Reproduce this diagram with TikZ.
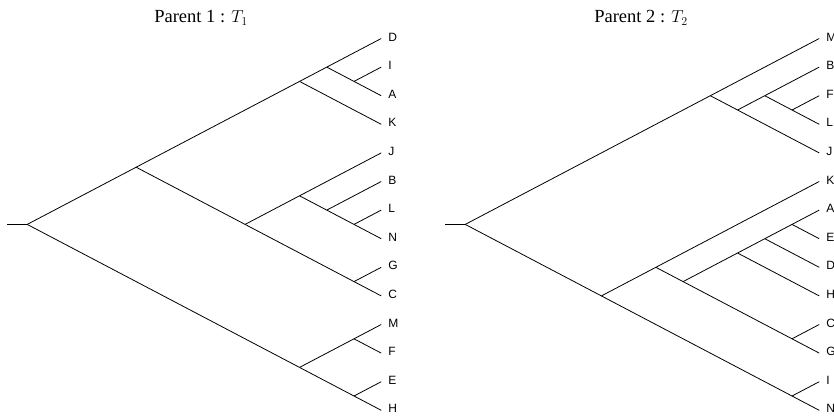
\documentclass[tikz,border=0pt]{standalone}
\usepackage{fontspec}
\setmainfont{Liberation Serif}
\newfontfamily\lsans{Liberation Sans}
\begin{document}
\begin{tikzpicture}[
  branch/.style={draw=black, line width=0.8pt},
  leaflabel/.style={anchor=west, inner sep=0pt, xshift=7pt, yshift=1.5pt, font=\lsans\fontsize{12}{14}\selectfont},
  treetitle/.style={anchor=base, inner sep=0pt, font=\fontsize{18.5}{22}\selectfont}
]
\useasboundingbox (0pt,0pt) rectangle (834pt,-416pt);

\node[treetitle] (title1) at (201pt,-22.5pt) {Parent 1 : $T_1$};
\node[treetitle] (title2) at (641pt,-22.5pt) {Parent 2 : $T_2$};

% ---------------- Tree 1 ----------------
\begin{scope}[shift={(0pt,-38.5pt)}, x=27.23pt, y=-28.6pt]
  % leaves
  \foreach \n/\i in {D/0,I/1,A/2,K/3,J/4,B/5,L/6,N/7,G/8,C/9,M/10,F/11,E/12,H/13}{
    \coordinate (a\n) at (14,\i);
    \node[leaflabel] (at\n) at (a\n) {\n};
  }
  % internal nodes
  \coordinate (aIA)  at (13,1.5);
  \coordinate (aDIA) at (12,1);
  \coordinate (aDK)  at (11,1.5);
  \coordinate (aLN)  at (13,6.5);
  \coordinate (aBN)  at (12,6);
  \coordinate (aJN)  at (11,5.5);
  \coordinate (aGC)  at (13,8.5);
  \coordinate (aJC)  at (9,6.5);
  \coordinate (aDC)  at (5,4.5);
  \coordinate (aMF)  at (13,10.5);
  \coordinate (aEH)  at (13,12.5);
  \coordinate (aMH)  at (11,11.5);
  \coordinate (aroot) at (1,6.5);
  \coordinate (astub) at ([xshift=-20pt]aroot);
  \draw[branch] (astub) -- (aroot);
  \foreach \p/\c in {aroot/aDC, aroot/aMH, aDC/aDK, aDC/aJC, aDK/aDIA, aDK/aK,
                     aDIA/aD, aDIA/aIA, aIA/aI, aIA/aA, aJC/aJN, aJC/aGC,
                     aJN/aJ, aJN/aBN, aBN/aB, aBN/aLN, aLN/aL, aLN/aN,
                     aGC/aG, aGC/aC, aMH/aMF, aMH/aEH, aMF/aM, aMF/aF,
                     aEH/aE, aEH/aH}{
    \draw[branch] (\p) -- (\c);
  }
\end{scope}

% ---------------- Tree 2 ----------------
\begin{scope}[shift={(438pt,-38.5pt)}, x=27.23pt, y=-28.6pt]
  \foreach \n/\i in {M/0,B/1,F/2,L/3,J/4,K/5,A/6,E/7,D/8,H/9,C/10,G/11,I/12,N/13}{
    \coordinate (b\n) at (14,\i);
    \node[leaflabel] (bt\n) at (b\n) {\n};
  }
  \coordinate (bFL) at (13,2.5);
  \coordinate (bBL) at (12,2);
  \coordinate (bBJ) at (11,2.5);
  \coordinate (bMJ) at (10,2);
  \coordinate (bAE) at (13,6.5);
  \coordinate (bAD) at (12,7);
  \coordinate (bAH) at (11,7.5);
  \coordinate (bCG) at (13,10.5);
  \coordinate (bAG) at (9,8.5);
  \coordinate (bKG) at (8,8);
  \coordinate (bIN) at (13,12.5);
  \coordinate (bKN) at (6,9);
  \coordinate (broot) at (1,6.5);
  \coordinate (bstub) at ([xshift=-20pt]broot);
  \draw[branch] (bstub) -- (broot);
  \foreach \p/\c in {broot/bMJ, broot/bKN, bMJ/bM, bMJ/bBJ, bBJ/bBL, bBJ/bJ,
                     bBL/bB, bBL/bFL, bFL/bF, bFL/bL, bKN/bKG, bKN/bIN,
                     bKG/bK, bKG/bAG, bAG/bAH, bAG/bCG, bAH/bAD, bAH/bH,
                     bAD/bAE, bAD/bD, bAE/bA, bAE/bE, bCG/bC, bCG/bG,
                     bIN/bI, bIN/bN}{
    \draw[branch] (\p) -- (\c);
  }
\end{scope}
\end{tikzpicture}
\end{document}
